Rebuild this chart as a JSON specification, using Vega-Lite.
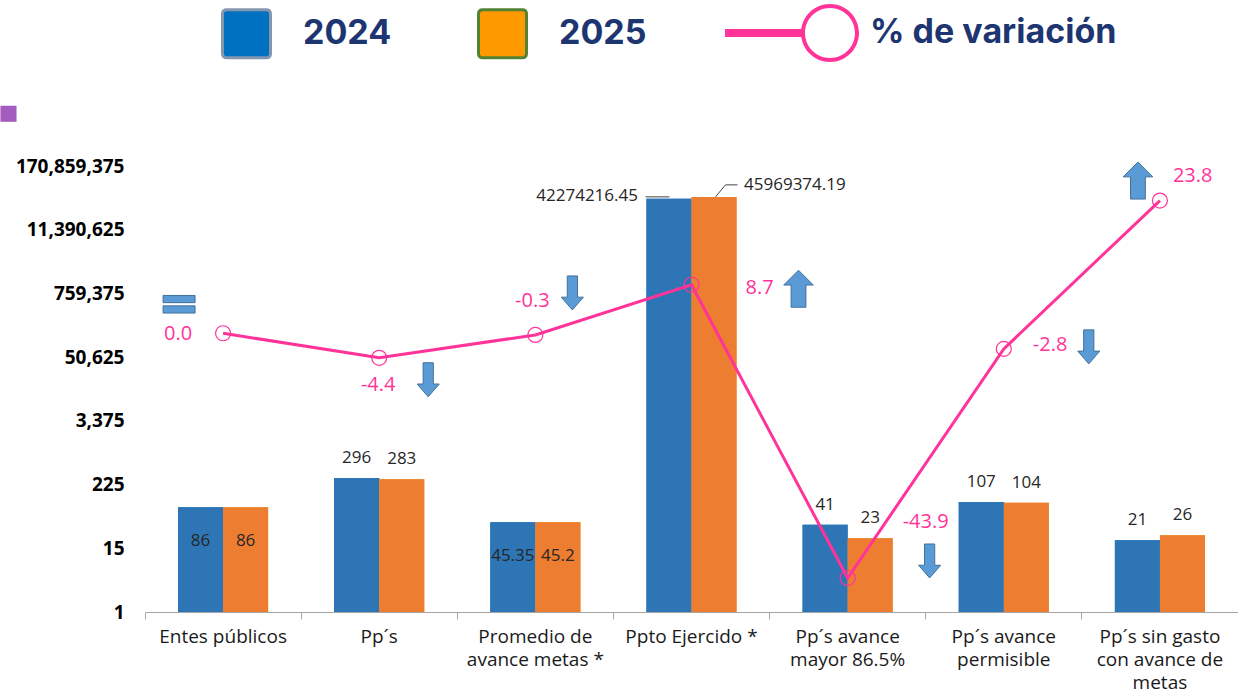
{
  "$schema": "https://vega.github.io/schema/vega-lite/v6.json",
  "width": 1093,
  "height": 446,
  "autosize": {"type": "none"},
  "padding": {"left": 145, "top": 166, "right": 0, "bottom": 82},
  "background": "white",
  "config": {
    "view": {"stroke": null},
    "font": "Open Sans",
    "axis": {"grid": false},
    "locale": {"number": {"decimal": ".", "thousands": ",", "grouping": [3], "currency": ["$", ""], "minus": "-"}}
  },
  "datasets": {
    "barras": [
      {"categoria": "Entes públicos", "anio": "2024", "valor": 86},
      {"categoria": "Entes públicos", "anio": "2025", "valor": 86},
      {"categoria": "Pp´s", "anio": "2024", "valor": 296},
      {"categoria": "Pp´s", "anio": "2025", "valor": 283},
      {"categoria": "Promedio de avance metas *", "anio": "2024", "valor": 45.35},
      {"categoria": "Promedio de avance metas *", "anio": "2025", "valor": 45.2},
      {"categoria": "Ppto Ejercido *", "anio": "2024", "valor": 42274216.45},
      {"categoria": "Ppto Ejercido *", "anio": "2025", "valor": 45969374.19},
      {"categoria": "Pp´s avance mayor 86.5%", "anio": "2024", "valor": 41},
      {"categoria": "Pp´s avance mayor 86.5%", "anio": "2025", "valor": 23},
      {"categoria": "Pp´s avance permisible", "anio": "2024", "valor": 107},
      {"categoria": "Pp´s avance permisible", "anio": "2025", "valor": 104},
      {"categoria": "Pp´s sin gasto con avance de metas", "anio": "2024", "valor": 21},
      {"categoria": "Pp´s sin gasto con avance de metas", "anio": "2025", "valor": 26}
    ],
    "variacion": [
      {"categoria": "Entes públicos", "serie": "% de variación", "variacion": 0.0},
      {"categoria": "Pp´s", "serie": "% de variación", "variacion": -4.4},
      {"categoria": "Promedio de avance metas *", "serie": "% de variación", "variacion": -0.3},
      {"categoria": "Ppto Ejercido *", "serie": "% de variación", "variacion": 8.7},
      {"categoria": "Pp´s avance mayor 86.5%", "serie": "% de variación", "variacion": -43.9},
      {"categoria": "Pp´s avance permisible", "serie": "% de variación", "variacion": -2.8},
      {"categoria": "Pp´s sin gasto con avance de metas", "serie": "% de variación", "variacion": 23.8}
    ]
  },
  "encoding": {
    "x": {
      "field": "categoria",
      "type": "nominal",
      "sort": null,
      "scale": {"paddingInner": 0, "paddingOuter": 0},
      "axis": {
        "title": null,
        "labelAngle": 0,
        "labelFont": "Open Sans",
        "labelFontSize": 19,
        "labelColor": "#1a1a1a",
        "labelBaseline": "top",
        "labelLineHeight": 23,
        "labelPadding": 8,
        "labelLimit": 300,
        "labelOverlap": false,
        "tickSize": 7,
        "tickColor": "#A6A6A6",
        "domainColor": "#A6A6A6",
        "bandPosition": 0,
        "labelExpr": "datum.label == 'Promedio de avance metas *' ? ['Promedio de', 'avance metas *'] : datum.label == 'Pp´s avance mayor 86.5%' ? ['Pp´s avance', 'mayor 86.5%'] : datum.label == 'Pp´s avance permisible' ? ['Pp´s avance', 'permisible'] : datum.label == 'Pp´s sin gasto con avance de metas' ? ['Pp´s sin gasto', 'con avance de', 'metas'] : datum.label"
      }
    }
  },
  "layer": [
    {
      "data": {"name": "barras"},
      "encoding": {
        "y": {
          "field": "valor",
          "type": "quantitative",
          "scale": {"type": "log", "base": 15, "domain": [1, 170859375], "nice": false},
          "axis": {
            "values": [1, 15, 225, 3375, 50625, 759375, 11390625, 170859375],
            "format": ",",
            "labelFont": "Open Sans",
            "labelFontWeight": "bold",
            "labelFontSize": 19,
            "labelColor": "#000000",
            "ticks": false,
            "tickSize": 0,
            "domain": false,
            "labelPadding": 21,
            "title": "■",
            "titleFont": "DejaVu Sans",
            "titleFontSize": 21,
            "titleColor": "#A35DC1",
            "titleAngle": 0,
            "titleAlign": "left",
            "titleBaseline": "middle",
            "titleX": -147,
            "titleY": -54
          }
        }
      },
      "layer": [
        {
          "mark": {"type": "bar", "strokeWidth": 0},
          "encoding": {
            "y2": {"datum": 1},
            "xOffset": {"field": "anio", "type": "nominal", "scale": {"paddingInner": 0, "paddingOuter": 0.733}},
            "fill": {
              "field": "anio",
              "type": "nominal",
              "scale": {"domain": ["2024", "2025"], "range": ["#0070C0", "#FF9900"]},
              "legend": {
                "orient": "none",
                "legendX": 76,
                "legendY": -158,
                "direction": "horizontal",
                "title": null,
                "padding": 0,
                "symbolType": "M -0.82 -1 L 0.82 -1 Q 1 -1 1 -0.82 L 1 0.82 Q 1 1 0.82 1 L -0.82 1 Q -1 1 -1 0.82 L -1 -0.82 Q -1 -1 -0.82 -1 Z",
                "symbolSize": 2304,
                "symbolStrokeWidth": 3,
                "labelFont": "Inter",
                "labelFontSize": 34,
                "labelFontWeight": "bold",
                "labelColor": "#1D3570",
                "labelOffset": 31,
                "columnPadding": 80,
                "labelLimit": 400,
                "encode": {
                  "symbols": {
                    "update": {
                      "stroke": {"signal": "datum.value == '2024' ? '#8497B0' : '#548235'"},
                      "strokeWidth": {"value": 3},
                      "opacity": {"value": 1}
                    }
                  }
                }
              }
            }
          }
        },
        {
          "mark": {"type": "bar", "strokeWidth": 0},
          "encoding": {
            "y2": {"datum": 1},
            "xOffset": {"field": "anio", "type": "nominal", "scale": {"paddingInner": 0, "paddingOuter": 0.733}},
            "fill": {
              "condition": {"test": "datum.anio == '2024'", "value": "#2E75B6"},
              "value": "#ED7D31"
            }
          }
        },
        {
          "transform": [{"filter": "datum.categoria == 'Entes públicos' || datum.categoria == 'Promedio de avance metas *'"}],
          "mark": {"type": "text", "dy": 34, "fontSize": 17, "color": "#262626", "font": "Open Sans"},
          "encoding": {
            "xOffset": {"field": "anio", "type": "nominal", "scale": {"paddingInner": 0, "paddingOuter": 0.733}},
            "text": {"field": "valor", "type": "quantitative", "format": ".12~g"}
          }
        },
        {
          "transform": [{"filter": "datum.categoria != 'Entes públicos' && datum.categoria != 'Promedio de avance metas *' && datum.categoria != 'Ppto Ejercido *'"}],
          "mark": {"type": "text", "dy": -20, "fontSize": 17, "color": "#262626", "font": "Open Sans"},
          "encoding": {
            "xOffset": {"field": "anio", "type": "nominal", "scale": {"paddingInner": 0, "paddingOuter": 0.733}},
            "text": {"field": "valor", "type": "quantitative", "format": ".12~g"}
          }
        },
        {
          "transform": [{"filter": "datum.categoria == 'Ppto Ejercido *' && datum.anio == '2024'"}],
          "mark": {"type": "text", "align": "right", "dx": -31, "dy": -3, "fontSize": 17, "color": "#262626", "font": "Open Sans"},
          "encoding": {
            "xOffset": {"field": "anio", "type": "nominal", "scale": {"paddingInner": 0, "paddingOuter": 0.733}},
            "text": {"field": "valor", "type": "quantitative", "format": ".12~g"}
          }
        },
        {
          "transform": [{"filter": "datum.categoria == 'Ppto Ejercido *' && datum.anio == '2025'"}],
          "mark": {"type": "text", "align": "left", "dx": 30, "dy": -12, "fontSize": 17, "color": "#262626", "font": "Open Sans"},
          "encoding": {
            "xOffset": {"field": "anio", "type": "nominal", "scale": {"paddingInner": 0, "paddingOuter": 0.733}},
            "text": {"field": "valor", "type": "quantitative", "format": ".12~g"}
          }
        },
        {
          "transform": [{"filter": "datum.categoria == 'Ppto Ejercido *' && datum.anio == '2024'"}],
          "mark": {"type": "rule", "color": "#404040", "strokeWidth": 1, "xOffset": -46, "x2Offset": -22, "yOffset": -2},
          "encoding": {
            "x2": {"field": "categoria"}
          }
        },
        {
          "transform": [{"filter": "datum.categoria == 'Ppto Ejercido *' && datum.anio == '2025'"}],
          "mark": {"type": "rule", "color": "#404040", "strokeWidth": 1, "xOffset": 24, "x2Offset": 34, "yOffset": 0, "y2Offset": -12},
          "encoding": {
            "x2": {"field": "categoria"},
            "y2": {"field": "valor"}
          }
        },
        {
          "transform": [{"filter": "datum.categoria == 'Ppto Ejercido *' && datum.anio == '2025'"}],
          "mark": {"type": "rule", "color": "#404040", "strokeWidth": 1, "xOffset": 34, "x2Offset": 46, "yOffset": -12},
          "encoding": {
            "x2": {"field": "categoria"}
          }
        }
      ]
    },
    {
      "data": {"name": "variacion"},
      "encoding": {
        "y": {
          "field": "variacion",
          "type": "quantitative",
          "scale": {"domain": [-50, 30], "nice": false, "zero": false},
          "axis": null
        }
      },
      "layer": [
        {
          "mark": {"type": "line", "strokeWidth": 3},
          "encoding": {
            "stroke": {
              "field": "serie",
              "type": "nominal",
              "scale": {"domain": ["% de variación"], "range": ["#FF3399"]},
              "legend": {
                "orient": "none",
                "legendX": 658,
                "legendY": -160,
                "title": null,
                "padding": 0,
                "symbolType": "M -3.89 -0.148 L -1 -0.148 L -1 0.148 L -3.89 0.148 Z M 0 -1.074 A 1.074 1.074 0 1 1 0 1.074 A 1.074 1.074 0 1 1 0 -1.074 Z M 0 -0.926 A 0.926 0.926 0 1 0 0 0.926 A 0.926 0.926 0 1 0 0 -0.926 Z",
                "symbolSize": 2916,
                "symbolStrokeWidth": 0,
                "labelFont": "Inter",
                "labelFontSize": 34,
                "labelFontWeight": "bold",
                "labelColor": "#1D3570",
                "labelOffset": 13,
                "labelLimit": 400,
                "encode": {
                  "symbols": {
                    "update": {
                      "fill": {"value": "#FF3399"},
                      "stroke": {"value": "transparent"},
                      "strokeWidth": {"value": 0},
                      "opacity": {"value": 1}
                    }
                  }
                }
              }
            }
          }
        },
        {
          "mark": {"type": "point", "filled": false, "size": 225, "stroke": "#FF3399", "strokeWidth": 1.2, "opacity": 1}
        },
        {
          "transform": [{"filter": "datum.categoria == 'Entes públicos'"}],
          "mark": {"type": "text", "align": "right", "dx": -31, "dy": 1, "fontSize": 20, "color": "#FF3399", "font": "Open Sans"},
          "encoding": {"text": {"field": "variacion", "type": "quantitative", "format": ".1f"}}
        },
        {
          "transform": [{"filter": "datum.categoria == 'Pp´s'"}],
          "mark": {"type": "text", "align": "center", "dx": -1, "dy": 27, "fontSize": 20, "color": "#FF3399", "font": "Open Sans"},
          "encoding": {"text": {"field": "variacion", "type": "quantitative", "format": ".1f"}}
        },
        {
          "transform": [{"filter": "datum.categoria == 'Promedio de avance metas *'"}],
          "mark": {"type": "text", "align": "center", "dx": -3, "dy": -34, "fontSize": 20, "color": "#FF3399", "font": "Open Sans"},
          "encoding": {"text": {"field": "variacion", "type": "quantitative", "format": ".1f"}}
        },
        {
          "transform": [{"filter": "datum.categoria == 'Ppto Ejercido *'"}],
          "mark": {"type": "text", "align": "left", "dx": 54, "dy": 3, "fontSize": 20, "color": "#FF3399", "font": "Open Sans"},
          "encoding": {"text": {"field": "variacion", "type": "quantitative", "format": ".1f"}}
        },
        {
          "transform": [{"filter": "datum.categoria == 'Pp´s avance mayor 86.5%'"}],
          "mark": {"type": "text", "align": "center", "dx": 78, "dy": -56, "fontSize": 20, "color": "#FF3399", "font": "Open Sans"},
          "encoding": {"text": {"field": "variacion", "type": "quantitative", "format": ".1f"}}
        },
        {
          "transform": [{"filter": "datum.categoria == 'Pp´s avance permisible'"}],
          "mark": {"type": "text", "align": "left", "dx": 29, "dy": -4, "fontSize": 20, "color": "#FF3399", "font": "Open Sans"},
          "encoding": {"text": {"field": "variacion", "type": "quantitative", "format": ".1f"}}
        },
        {
          "transform": [{"filter": "datum.categoria == 'Pp´s sin gasto con avance de metas'"}],
          "mark": {"type": "text", "align": "left", "dx": 13, "dy": -25, "fontSize": 20, "color": "#FF3399", "font": "Open Sans"},
          "encoding": {"text": {"field": "variacion", "type": "quantitative", "format": ".1f"}}
        },
        {
          "transform": [{"filter": "datum.categoria == 'Entes públicos'"}],
          "mark": {"type": "point", "shape": "M -1 -0.55 L 1 -0.55 L 1 -0.1 L -1 -0.1 Z M -1 0.1 L 1 0.1 L 1 0.55 L -1 0.55 Z", "size": 1024, "filled": true, "fill": "#5B9BD5", "stroke": "#41719C", "strokeWidth": 1, "opacity": 1, "xOffset": -44, "yOffset": -29}
        },
        {
          "transform": [{"filter": "datum.categoria == 'Pp´s'"}],
          "mark": {"type": "point", "shape": "M -0.3 -1 L 0.3 -1 L 0.3 0.25 L 0.65 0.25 L 0 1 L -0.65 0.25 L -0.3 0.25 Z", "size": 1156, "filled": true, "fill": "#5B9BD5", "stroke": "#41719C", "strokeWidth": 1, "opacity": 1, "xOffset": 49, "yOffset": 22}
        },
        {
          "transform": [{"filter": "datum.categoria == 'Promedio de avance metas *'"}],
          "mark": {"type": "point", "shape": "M -0.3 -1 L 0.3 -1 L 0.3 0.25 L 0.65 0.25 L 0 1 L -0.65 0.25 L -0.3 0.25 Z", "size": 1156, "filled": true, "fill": "#5B9BD5", "stroke": "#41719C", "strokeWidth": 1, "opacity": 1, "xOffset": 37, "yOffset": -42}
        },
        {
          "transform": [{"filter": "datum.categoria == 'Ppto Ejercido *'"}],
          "mark": {"type": "point", "shape": "M 0 -1 L 0.8 -0.2 L 0.4 -0.2 L 0.4 1 L -0.4 1 L -0.4 -0.2 L -0.8 -0.2 Z", "size": 1369, "filled": true, "fill": "#5B9BD5", "stroke": "#41719C", "strokeWidth": 1, "opacity": 1, "xOffset": 107, "yOffset": 4}
        },
        {
          "transform": [{"filter": "datum.categoria == 'Pp´s avance mayor 86.5%'"}],
          "mark": {"type": "point", "shape": "M -0.3 -1 L 0.3 -1 L 0.3 0.25 L 0.65 0.25 L 0 1 L -0.65 0.25 L -0.3 0.25 Z", "size": 1156, "filled": true, "fill": "#5B9BD5", "stroke": "#41719C", "strokeWidth": 1, "opacity": 1, "xOffset": 82, "yOffset": -17}
        },
        {
          "transform": [{"filter": "datum.categoria == 'Pp´s avance permisible'"}],
          "mark": {"type": "point", "shape": "M -0.3 -1 L 0.3 -1 L 0.3 0.25 L 0.65 0.25 L 0 1 L -0.65 0.25 L -0.3 0.25 Z", "size": 1156, "filled": true, "fill": "#5B9BD5", "stroke": "#41719C", "strokeWidth": 1, "opacity": 1, "xOffset": 85, "yOffset": -2}
        },
        {
          "transform": [{"filter": "datum.categoria == 'Pp´s sin gasto con avance de metas'"}],
          "mark": {"type": "point", "shape": "M 0 -1 L 0.8 -0.2 L 0.4 -0.2 L 0.4 1 L -0.4 1 L -0.4 -0.2 L -0.8 -0.2 Z", "size": 1369, "filled": true, "fill": "#5B9BD5", "stroke": "#41719C", "strokeWidth": 1, "opacity": 1, "xOffset": -22, "yOffset": -20}
        }
      ]
    }
  ],
  "resolve": {"scale": {"y": "independent", "stroke": "independent"}, "legend": {"stroke": "independent"}}
}
